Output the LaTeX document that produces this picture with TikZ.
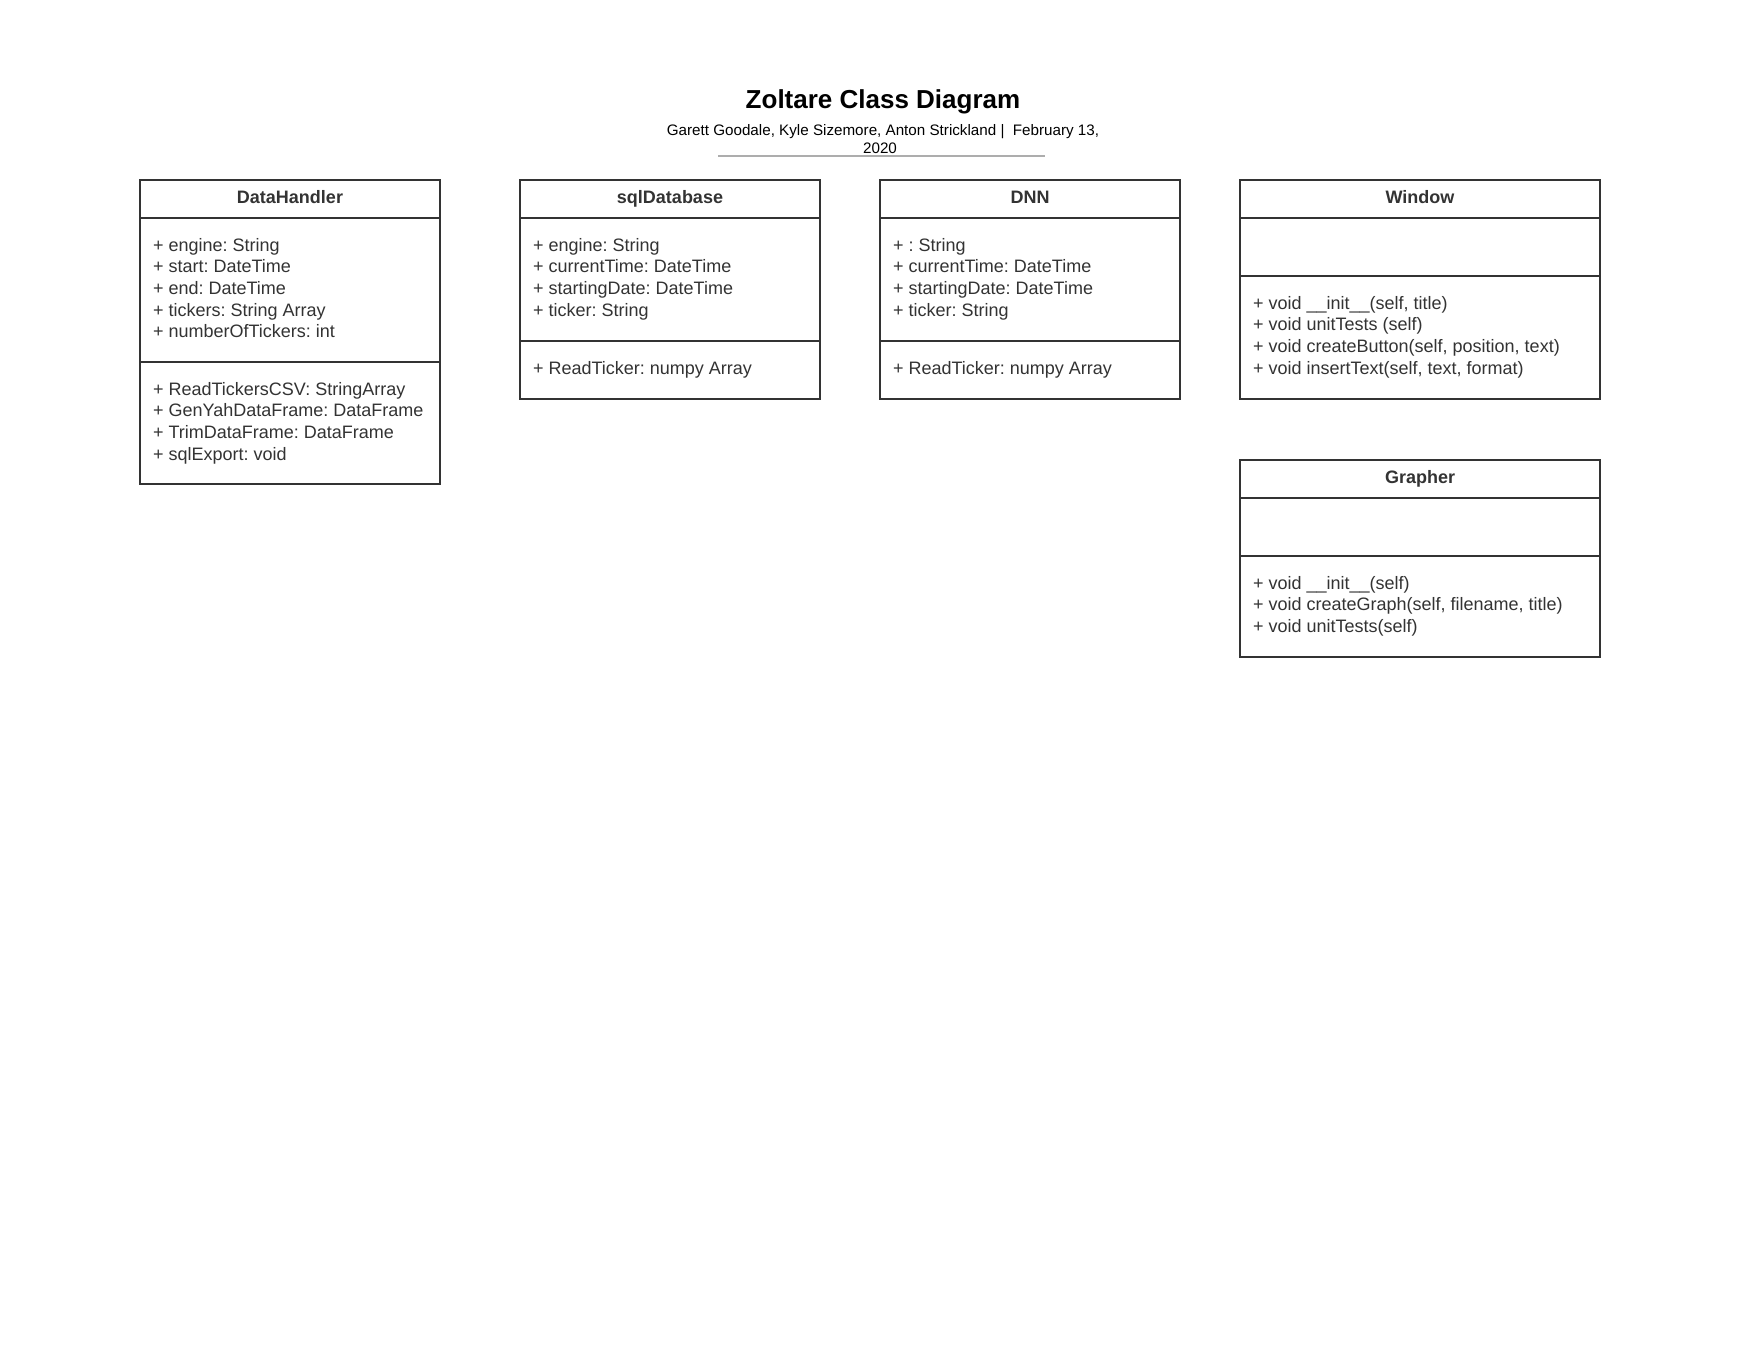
\documentclass[tikz,border=0pt]{standalone}
\usepackage{fontspec}
\setmainfont{Liberation Sans}
\frenchspacing
\definecolor{ink}{HTML}{333333}
\definecolor{rulegray}{HTML}{ADADAD}
\tikzset{
  box/.style={draw=ink,line width=1pt},
  txt/.style={anchor=base west,inner sep=0pt,text=ink,font=\fontsize{9}{10.85}\selectfont},
  hdr/.style={anchor=base,inner sep=0pt,text=ink,font=\bfseries\fontsize{9}{10.85}\selectfont},
  ttl/.style={anchor=base,inner sep=0pt,text=black,font=\bfseries\fontsize{13}{15}\selectfont},
  sub/.style={anchor=base,inner sep=0pt,text=black,font=\fontsize{7.6}{9}\selectfont},
}
% #1 name, #2 x, #3 first baseline y, #4 list of lines
\newcommand\complines[4]{%
  \foreach [count=\i from 0] \t in {#4} {\node[txt] (#1-\i) at (#2, #3+\i*21.7) {\t};}%
}
\begin{document}
\begin{tikzpicture}[x=0.5pt,y=-0.5pt]
\useasboundingbox[fill=white] (0,0) rectangle (1760,1360);

% title block
\node[ttl] (title) at (883,108) {Zoltare Class Diagram};
\node[sub] (sub1) at (883,135.5) {Garett Goodale, Kyle Sizemore, Anton Strickland |\ \ February 13,};
\node[sub] (sub2) at (880,153.5) {2020};
\draw[rulegray,line width=0.75pt] (718,156) -- (1045,156);

% DataHandler
\draw[box] (140,180) rectangle (440,484);
\draw[box] (140,218) -- (440,218);
\draw[box] (140,362) -- (440,362);
\node[hdr] (dh) at (290,203) {DataHandler};
\complines{dha}{152.7}{251}{{+ engine: String},{+ start: DateTime},{+ end: DateTime},{+ tickers: String Array},{+ numberOfTickers: int}}
\complines{dhm}{152.7}{395}{{+ ReadTickersCSV: StringArray},{+ GenYahDataFrame: DataFrame},{+ TrimDataFrame: DataFrame},{+ sqlExport: void}}

% sqlDatabase
\draw[box] (520,180) rectangle (820,399);
\draw[box] (520,218) -- (820,218);
\draw[box] (520,341) -- (820,341);
\node[hdr] (sql) at (670,203) {sqlDatabase};
\complines{sqla}{532.7}{251}{{+ engine: String},{+ currentTime: DateTime},{+ startingDate: DateTime},{+ ticker: String}}
\complines{sqlm}{532.7}{374}{{+ ReadTicker: numpy Array}}

% DNN
\draw[box] (880,180) rectangle (1180,399);
\draw[box] (880,218) -- (1180,218);
\draw[box] (880,341) -- (1180,341);
\node[hdr] (dnn) at (1030,203) {DNN};
\complines{dnna}{892.7}{251}{{+ : String},{+ currentTime: DateTime},{+ startingDate: DateTime},{+ ticker: String}}
\complines{dnnm}{892.7}{374}{{+ ReadTicker: numpy Array}}

% Window
\draw[box] (1240,180) rectangle (1600,399);
\draw[box] (1240,218) -- (1600,218);
\draw[box] (1240,276) -- (1600,276);
\node[hdr] (win) at (1420,203) {Window};
\complines{winm}{1252.7}{309}{{+ void \_\_init\_\_(self, title)},{+ void unitTests (self)},{+ void createButton(self, position, text)},{+ void insertText(self, text, format)}}

% Grapher
\draw[box] (1240,460) rectangle (1600,657);
\draw[box] (1240,498) -- (1600,498);
\draw[box] (1240,556) -- (1600,556);
\node[hdr] (gr) at (1420,483) {Grapher};
\complines{grm}{1252.7}{589}{{+ void \_\_init\_\_(self)},{+ void createGraph(self, filename, title)},{+ void unitTests(self)}}
\end{tikzpicture}
\end{document}
